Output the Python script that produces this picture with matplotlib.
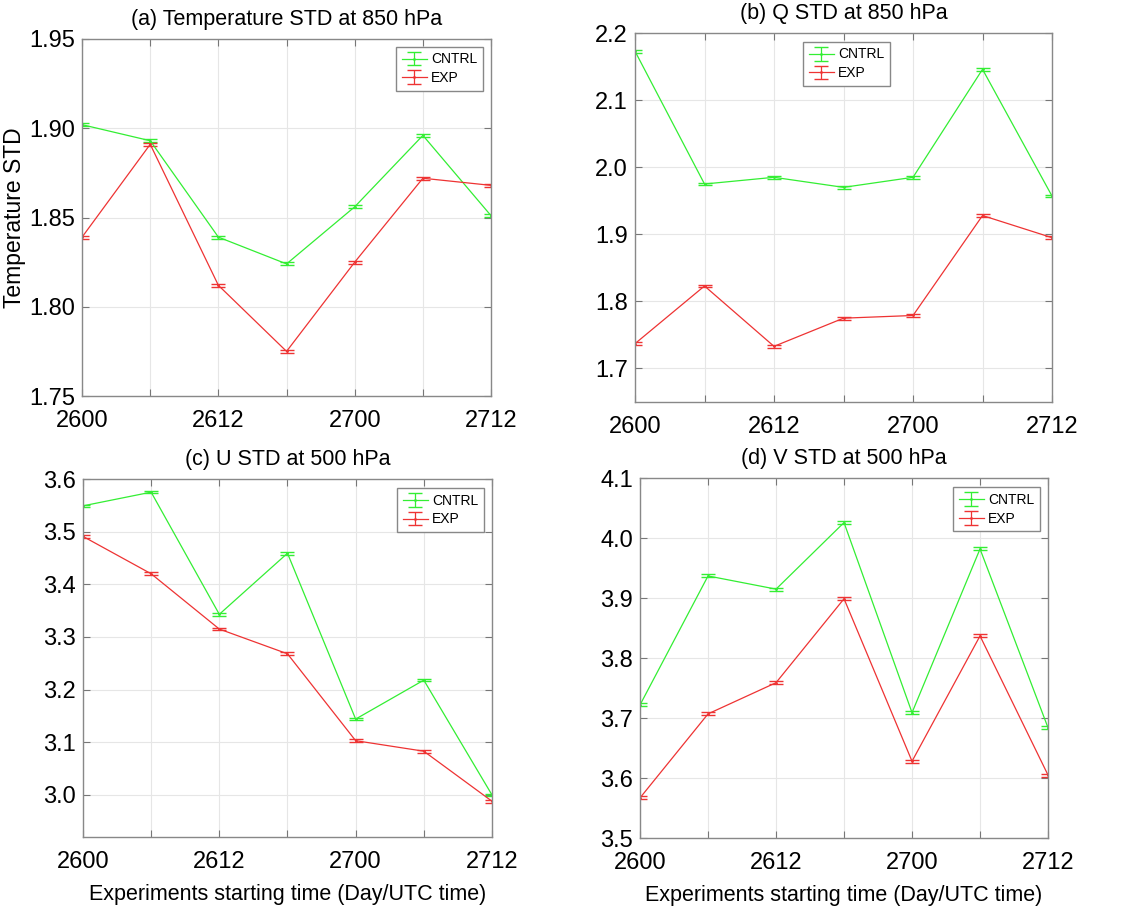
import matplotlib
matplotlib.use('Agg')
import matplotlib.pyplot as plt
from matplotlib.ticker import FormatStrFormatter

plt.rcParams['font.family'] = ['Liberation Sans', 'DejaVu Sans']

# eje x: hora de inicio de los experimentos
horas = [0, 1, 2, 3, 4, 5, 6]
etiquetas_x = ['2600', '', '2612', '', '2700', '', '2712']

# (a) temperatura 850 hPa
temp_cntrl = [1.902, 1.893, 1.839, 1.824, 1.856, 1.896, 1.851]
temp_exp = [1.839, 1.891, 1.812, 1.775, 1.825, 1.872, 1.868]
temp_err = [0.0008] * 7

# (b) Q 850 hPa
q_cntrl = [2.173, 1.975, 1.985, 1.970, 1.985, 2.146, 1.957]
q_exp = [1.737, 1.823, 1.733, 1.775, 1.779, 1.928, 1.895]
q_err = [0.002] * 7

# (c) U 500 hPa
u_cntrl = [3.549, 3.575, 3.343, 3.459, 3.144, 3.218, 3.000]
u_exp = [3.491, 3.420, 3.315, 3.268, 3.103, 3.083, 2.988]
u_err = [0.0025] * 7

# (d) V 500 hPa
v_cntrl = [3.722, 3.937, 3.915, 4.026, 3.709, 3.982, 3.684]
v_exp = [3.567, 3.707, 3.759, 3.899, 3.628, 3.837, 3.605]
v_err = [0.0025] * 7

fig = plt.figure(figsize=(11.46, 9.11), dpi=100)

paneles = [
    # posicion, titulo, cntrl, exp, err, ylim, yticks, formato, anclaje leyenda
    ([0.0716, 0.5653, 0.3569, 0.3919], '(a) Temperature STD at 850 hPa',
     temp_cntrl, temp_exp, temp_err, (1.75, 1.95),
     [1.75, 1.80, 1.85, 1.90, 1.95], '%.2f', ('upper right', (0.98, 0.978))),
    ([0.5541, 0.5587, 0.3639, 0.4050], '(b) Q STD at 850 hPa',
     q_cntrl, q_exp, q_err, (1.65, 2.2),
     [1.7, 1.8, 1.9, 2.0, 2.1, 2.2], '%.1f', ('upper left', (0.403, 0.976))),
    ([0.0724, 0.0812, 0.3569, 0.3930], '(c) U STD at 500 hPa',
     u_cntrl, u_exp, u_err, (2.92, 3.6),
     [3.0, 3.1, 3.2, 3.3, 3.4, 3.5, 3.6], '%.1f', ('upper right', (0.98, 0.975))),
    ([0.5585, 0.0801, 0.3560, 0.3950], '(d) V STD at 500 hPa',
     v_cntrl, v_exp, v_err, (3.5, 4.1),
     [3.5, 3.6, 3.7, 3.8, 3.9, 4.0, 4.1], '%.1f', ('upper right', (0.98, 0.975))),
]

axes = []
for pos, titulo, cntrl, exp, err, ylim, yt, fmt, (loc, anc) in paneles:
    ax = fig.add_axes(pos)
    ax.errorbar(horas, cntrl, yerr=err, color='#33ee33', lw=0.9, capsize=5,
                marker='.', ms=2, label='CNTRL')
    ax.errorbar(horas, exp, yerr=err, color='#ee3333', lw=0.9, capsize=5,
                marker='.', ms=2, label='EXP')
    ax.set_xlim(0, 6)
    ax.set_ylim(*ylim)
    ax.set_xticks(horas)
    ax.set_xticklabels(etiquetas_x)
    ax.set_yticks(yt)
    ax.yaxis.set_major_formatter(FormatStrFormatter(fmt))
    ax.grid(True, color='#e6e6e6', lw=0.8)
    ax.set_axisbelow(True)
    ax.tick_params(direction='in', top=True, right=True, labelsize=17,
                   length=5, color='#777777')
    ax.tick_params(axis='x', pad=10)
    ax.tick_params(axis='y', pad=5)
    for s in ax.spines.values():
        s.set_color('#888888')
        s.set_linewidth(1.0)
    ax.set_title(titulo, fontsize=15.5, pad=10)
    leg = ax.legend(loc=loc, bbox_to_anchor=anc, borderaxespad=0,
                    fontsize=10, fancybox=False, framealpha=1,
                    handlelength=1.8, handletextpad=0.3, borderpad=0.4,
                    labelspacing=0.35)
    leg.get_frame().set_edgecolor('#888888')
    axes.append(ax)

axes[0].set_ylabel('Temperature STD', fontsize=16.5)
axes[0].yaxis.set_label_coords(-0.137, 0.5)
for ax in axes[2:]:
    ax.set_xlabel('Experiments starting time (Day/UTC time)', fontsize=15.5,
                  labelpad=8)

fig.savefig('out.png', dpi=100)
